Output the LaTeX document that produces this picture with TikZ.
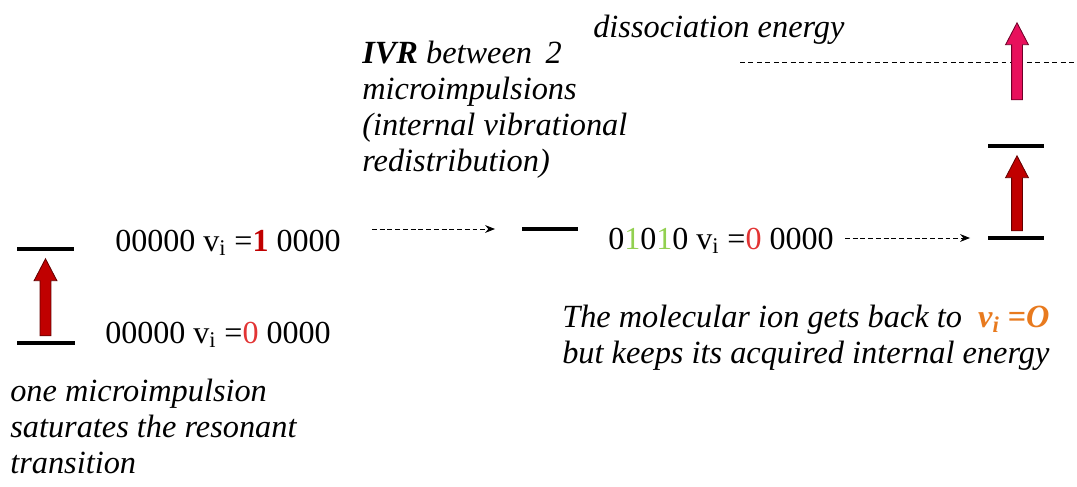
\documentclass[tikz,border=0pt]{standalone}
\usepackage{fontspec}
\setmainfont{Liberation Serif}
\usetikzlibrary{shapes.arrows,arrows.meta}
\definecolor{levred}{RGB}{192,0,0}
\definecolor{levdark}{RGB}{100,0,0}
\definecolor{disspink}{RGB}{232,16,92}
\definecolor{dissdark}{RGB}{110,0,40}
\definecolor{zeroRed}{RGB}{226,52,52}
\definecolor{modeGreen}{RGB}{146,208,80}
\definecolor{ionOrange}{RGB}{232,122,30}

\begin{document}
\begin{tikzpicture}[x=0.025cm,y=-0.025cm,
    level/.style={line width=2.2pt},
    jump/.style={single arrow,draw=levdark,fill=levred,rotate=90,
                 inner xsep=0pt,inner ysep=0.125cm,
                 single arrow head extend=0.15cm,single arrow tip angle=55,
                 single arrow head indent=0pt,minimum height=1.925cm,
                 line width=0.6pt},
    flow/.style={-{Stealth[length=7pt,width=5.5pt]},dashed,
                 dash pattern=on 3.5pt off 2pt,line width=0.6pt},
    state/.style={anchor=base west,inner sep=0pt,
                  font=\fontsize{22.8}{26}\selectfont},
    note/.style={anchor=base west,inner sep=0pt,align=left,
                 font=\fontsize{23}{25.6}\selectfont\itshape},
  ]
    \useasboundingbox (0,0) rectangle (1077,486);

    % Levels
    \coordinate (g0) at (17,343);
    \coordinate (g1) at (17,249);
    \coordinate (mid) at (522,229);
    \coordinate (r0) at (988,238);
    \coordinate (r1) at (988,146);
    \draw[level] (g0) -- ++(58,0);
    \draw[level] (g1) -- ++(57,0);
    \draw[level] (mid) -- ++(56,0);
    \draw[level] (r0) -- ++(56,0);
    \draw[level] (r1) -- ++(56,0);

    % Dissociation limit
    \coordinate (dl) at (740,62);
    \coordinate (dr) at (1077,62);
    \draw[dashed,dash pattern=on 3.5pt off 2.5pt,line width=0.6pt] (dl) -- (dr);

    % Excitations
    \node[jump] (pump1) at (45.5,302.5) {};
    \node[jump,minimum height=1.875cm] (pump2) at (1017,198.5) {};
    \node[jump,fill=disspink,draw=dissdark] (diss) at (1017,66.5) {};

    % States
    \node[state] (s0) at (105,343)
      {00000 v\textsubscript{i} =\textcolor{zeroRed}{0} 0000};
    \node[state] (s1) at (115,251)
      {00000 v\textsubscript{i} =\textcolor{levred}{\textbf{1}} 0000};
    \node[state] (s2) at (608,249)
      {0\textcolor{modeGreen}{1}0\textcolor{modeGreen}{1}0 v\textsubscript{i} =\textcolor{zeroRed}{0} 0000};

    % IVR transfers
    \coordinate (ivrA) at (372,229);
    \coordinate (ivrB) at (495,229);
    \coordinate (ivrC) at (845,238);
    \coordinate (ivrD) at (970,238);
    \draw[flow] (ivrA) -- (ivrB);
    \draw[flow] (ivrC) -- (ivrD);

    % Comments (base = last line)
    \node[note] (dlab) at (593,38) {dissociation energy};
    \node[note] (ivr) at (362,171)
      {\textbf{IVR} between \,2\\microimpulsions\\(internal vibrational\\redistribution)};
    \node[note] (sat) at (10,473)
      {one microimpulsion\\saturates the resonant\\transition};
    \node[note] (back) at (562,363)
      {The molecular ion gets back to \ \textcolor{ionOrange}{\textbf{v\textsubscript{i} =O}}\\but keeps its acquired internal energy};

  \end{tikzpicture}
\end{document}
